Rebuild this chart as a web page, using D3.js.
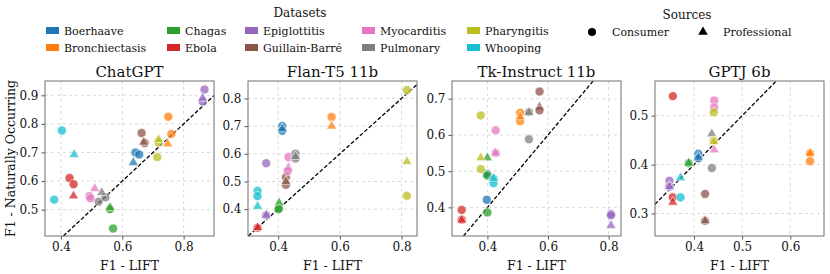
<!DOCTYPE html>
<html lang="en">
<head>
	<meta charset="UTF-8"/>
	<title>F1 LIFT vs Naturally Occurring</title>
	<script src="https://d3js.org/d3.v7.min.js"></script>
	<style>
		body { margin: 0; background: white; }
		svg text { font-family: "DejaVu Serif", serif; fill: #111; }
	</style>
</head>
<body>
<script>
	var w = 830;
	var h = 274;

	var datasets = ["Boerhaave", "Bronchiectasis", "Chagas", "Ebola", "Epiglottitis",
					"Guillain-Barré", "Myocarditis", "Pulmonary", "Pharyngitis", "Whooping"];
	var colors = ["#1f77b4", "#ff7f0e", "#2ca02c", "#d62728", "#9467bd",
				  "#8c564b", "#e377c2", "#7f7f7f", "#bcbd22", "#17becf"];
	var sources = ["Consumer", "Professional"];
	var models = ["ChatGPT", "Flan-T5 11b", "Tk-Instruct 11b", "GPTJ 6b"];

	// [dataset, source (C/P), F1 LIFT, F1 naturally occurring]
	var chatgpt = [
		["Boerhaave","C",0.643,0.700], ["Boerhaave","C",0.655,0.693], ["Boerhaave","P",0.636,0.665],
		["Bronchiectasis","C",0.750,0.825], ["Bronchiectasis","C",0.760,0.765], ["Bronchiectasis","P",0.748,0.730],
		["Chagas","C",0.560,0.502], ["Chagas","P",0.560,0.507], ["Chagas","C",0.570,0.434],
		["Ebola","C",0.428,0.611], ["Ebola","C",0.441,0.589], ["Ebola","P",0.441,0.548],
		["Epiglottitis","C",0.868,0.920], ["Epiglottitis","C",0.862,0.878], ["Epiglottitis","P",0.862,0.890],
		["Guillain-Barré","C",0.663,0.768], ["Guillain-Barré","C",0.673,0.733], ["Guillain-Barré","P",0.670,0.736],
		["Myocarditis","C",0.493,0.548], ["Myocarditis","C",0.496,0.540], ["Myocarditis","P",0.510,0.574],
		["Pulmonary","C",0.523,0.528], ["Pulmonary","C",0.545,0.543], ["Pulmonary","P",0.533,0.560],
		["Pharyngitis","C",0.714,0.684], ["Pharyngitis","C",0.718,0.735], ["Pharyngitis","P",0.718,0.745],
		["Whooping","C",0.403,0.777], ["Whooping","C",0.378,0.535], ["Whooping","P",0.443,0.693]
	];
	var flant5 = [
		["Boerhaave","C",0.413,0.700], ["Boerhaave","C",0.413,0.683], ["Boerhaave","P",0.413,0.690],
		["Bronchiectasis","C",0.573,0.733], ["Bronchiectasis","P",0.573,0.700],
		["Chagas","C",0.403,0.403], ["Chagas","P",0.403,0.423], ["Chagas","C",0.401,0.400],
		["Ebola","C",0.333,0.333], ["Ebola","P",0.333,0.333],
		["Epiglottitis","C",0.361,0.566], ["Epiglottitis","C",0.361,0.378], ["Epiglottitis","P",0.361,0.378],
		["Guillain-Barré","C",0.425,0.515], ["Guillain-Barré","C",0.425,0.488], ["Guillain-Barré","P",0.425,0.500],
		["Myocarditis","C",0.433,0.588], ["Myocarditis","P",0.433,0.550], ["Myocarditis","C",0.431,0.538],
		["Pulmonary","C",0.456,0.600], ["Pulmonary","C",0.456,0.583], ["Pulmonary","P",0.456,0.590],
		["Pharyngitis","C",0.817,0.830], ["Pharyngitis","P",0.817,0.572], ["Pharyngitis","C",0.817,0.448],
		["Whooping","C",0.333,0.466], ["Whooping","C",0.333,0.447], ["Whooping","P",0.333,0.410]
	];
	var tkinstruct = [
		["Boerhaave","C",0.398,0.493], ["Boerhaave","C",0.398,0.421], ["Boerhaave","P",0.398,0.490],
		["Bronchiectasis","C",0.508,0.661], ["Bronchiectasis","C",0.508,0.638], ["Bronchiectasis","P",0.508,0.650],
		["Chagas","P",0.400,0.537], ["Chagas","C",0.400,0.488], ["Chagas","C",0.400,0.386],
		["Ebola","C",0.315,0.393], ["Ebola","C",0.315,0.366], ["Ebola","P",0.315,0.365],
		["Epiglottitis","C",0.808,0.382], ["Epiglottitis","C",0.808,0.378], ["Epiglottitis","P",0.808,0.350],
		["Guillain-Barré","C",0.572,0.720], ["Guillain-Barré","P",0.572,0.677], ["Guillain-Barré","C",0.572,0.668],
		["Myocarditis","C",0.427,0.613], ["Myocarditis","C",0.427,0.550], ["Myocarditis","P",0.427,0.550],
		["Pulmonary","C",0.537,0.663], ["Pulmonary","P",0.537,0.662], ["Pulmonary","C",0.537,0.588],
		["Pharyngitis","C",0.378,0.654], ["Pharyngitis","P",0.378,0.537], ["Pharyngitis","C",0.378,0.506],
		["Whooping","C",0.420,0.479], ["Whooping","C",0.420,0.467], ["Whooping","P",0.420,0.480]
	];
	var gptj = [
		["Boerhaave","C",0.409,0.422], ["Boerhaave","C",0.409,0.413], ["Boerhaave","P",0.409,0.415],
		["Bronchiectasis","C",0.641,0.423], ["Bronchiectasis","P",0.641,0.423], ["Bronchiectasis","C",0.641,0.407],
		["Chagas","C",0.389,0.403], ["Chagas","P",0.389,0.403],
		["Ebola","C",0.356,0.540], ["Ebola","C",0.356,0.333], ["Ebola","P",0.356,0.323],
		["Epiglottitis","C",0.349,0.367], ["Epiglottitis","C",0.349,0.355], ["Epiglottitis","P",0.349,0.355],
		["Guillain-Barré","C",0.423,0.340], ["Guillain-Barré","C",0.423,0.285], ["Guillain-Barré","P",0.423,0.285],
		["Myocarditis","C",0.442,0.531], ["Myocarditis","C",0.442,0.517], ["Myocarditis","P",0.442,0.430],
		["Pulmonary","P",0.437,0.463], ["Pulmonary","C",0.437,0.393],
		["Pharyngitis","C",0.441,0.507], ["Pharyngitis","C",0.441,0.449], ["Pharyngitis","P",0.441,0.447],
		["Whooping","P",0.372,0.373], ["Whooping","C",0.372,0.333]
	];

	var xDomains = [[0.348, 0.899], [0.302, 0.850], [0.283, 0.841], [0.319, 0.670]];
	var yDomains = [[0.408, 0.950], [0.303, 0.863], [0.321, 0.749], [0.254, 0.571]];
	var xTicks = [[0.4, 0.6, 0.8], [0.4, 0.6, 0.8], [0.4, 0.6, 0.8], [0.4, 0.5, 0.6]];
	var yTicks = [[0.5, 0.6, 0.7, 0.8, 0.9], [0.4, 0.5, 0.6, 0.7, 0.8], [0.4, 0.5, 0.6, 0.7], [0.3, 0.4, 0.5]];
	var panelData = [chatgpt, flant5, tkinstruct, gptj];

	// layout of each plot box
	var lefts = [45, 248, 452, 655];
	var pw = 169;
	var plotTop = 81;
	var plotBottom = 236;
	var serif = "'DejaVu Serif', serif";

	var color = d3.scaleOrdinal().domain(datasets).range(colors);

	var svg = d3.select("body")
				.append("svg")
				.attr("width", w)
				.attr("height", h)
				.attr("font-family", serif);

	models.forEach(function(name, i) {
		var x = d3.scaleLinear().domain(xDomains[i]).range([lefts[i], lefts[i] + pw]);
		var y = d3.scaleLinear().domain(yDomains[i]).range([plotBottom, plotTop]);
		var g = svg.append("g");

		// grid
		g.selectAll(".gx")
			.data(xTicks[i])
			.enter()
			.append("line")
			.attr("x1", function(d){ return x(d); })
			.attr("x2", function(d){ return x(d); })
			.attr("y1", plotTop)
			.attr("y2", plotBottom)
			.attr("stroke", "#d0d0d0")
			.attr("stroke-width", 0.8)
			.attr("stroke-dasharray", "3,3");
		g.selectAll(".gy")
			.data(yTicks[i])
			.enter()
			.append("line")
			.attr("x1", lefts[i])
			.attr("x2", lefts[i] + pw)
			.attr("y1", function(d){ return y(d); })
			.attr("y2", function(d){ return y(d); })
			.attr("stroke", "#d0d0d0")
			.attr("stroke-width", 0.8)
			.attr("stroke-dasharray", "3,3");

		// axes
		var xAxis = g.append("g")
			.attr("transform", "translate(0," + plotBottom + ")")
			.call(d3.axisBottom(x).tickValues(xTicks[i]).tickSize(3.5).tickPadding(3).tickFormat(d3.format(".1f")));
		var yAxis = g.append("g")
			.attr("transform", "translate(" + lefts[i] + ",0)")
			.call(d3.axisLeft(y).tickValues(yTicks[i]).tickSize(3.5).tickPadding(3).tickFormat(d3.format(".1f")));
		[xAxis, yAxis].forEach(function(a) {
			a.attr("font-family", serif).attr("font-size", 12);
			a.select(".domain").remove();
			a.selectAll("line").attr("stroke", "#555");
			a.selectAll("text").attr("fill", "#111");
		});

		// y = x reference line, clipped to the box
		var lo = Math.max(xDomains[i][0], yDomains[i][0]);
		var hi = Math.min(xDomains[i][1], yDomains[i][1]);
		g.append("line")
			.attr("x1", x(lo)).attr("y1", y(lo))
			.attr("x2", x(hi)).attr("y2", y(hi))
			.attr("stroke", "black")
			.attr("stroke-width", 1.3)
			.attr("stroke-dasharray", "4,2");

		// markers
		g.selectAll(".pt")
			.data(panelData[i])
			.enter()
			.append("path")
			.attr("d", function(d){
				return d[1] == "C" ? d3.symbol(d3.symbolCircle, 64)() : d3.symbol(d3.symbolTriangle, 44)();
			})
			.attr("transform", function(d){ return "translate(" + x(d[2]) + "," + y(d[3]) + ")"; })
			.attr("fill", function(d){ return color(d[0]); })
			.attr("fill-opacity", 0.75)
			.attr("stroke", "white")
			.attr("stroke-width", 0.6);

		// frame
		g.append("rect")
			.attr("x", lefts[i])
			.attr("y", plotTop)
			.attr("width", pw)
			.attr("height", plotBottom - plotTop)
			.attr("fill", "none")
			.attr("stroke", "#6e6e6e")
			.attr("stroke-width", 1);

		g.append("text")
			.attr("x", lefts[i] + pw / 2)
			.attr("y", 77)
			.attr("text-anchor", "middle")
			.attr("font-size", 15)
			.text(name);

		g.append("text")
			.attr("x", lefts[i] + pw / 2)
			.attr("y", 270)
			.attr("text-anchor", "middle")
			.attr("font-size", 12.5)
			.text("F1 - LIFT");
	});

	svg.append("text")
		.attr("transform", "translate(15," + ((plotTop + plotBottom) / 2) + ") rotate(-90)")
		.attr("text-anchor", "middle")
		.attr("font-size", 12.5)
		.text("F1 - Naturally Occurring");

	// legend: datasets
	var legX = [46, 167, 245, 362, 467];
	svg.append("text")
		.attr("x", 300)
		.attr("y", 17)
		.attr("text-anchor", "middle")
		.attr("font-size", 12)
		.text("Datasets");

	var items = svg.selectAll(".leg")
		.data(datasets)
		.enter()
		.append("g")
		.attr("transform", function(d, i){
			return "translate(" + legX[Math.floor(i / 2)] + "," + (i % 2 == 0 ? 31 : 48) + ")";
		});
	items.append("rect")
		.attr("x", 0)
		.attr("y", -4)
		.attr("width", 13)
		.attr("height", 7)
		.attr("fill", function(d){ return color(d); });
	items.append("text")
		.attr("x", 18)
		.attr("y", 4)
		.attr("font-size", 11)
		.text(function(d){ return d; });

	// legend: sources
	svg.append("text")
		.attr("x", 687)
		.attr("y", 19)
		.attr("text-anchor", "middle")
		.attr("font-size", 12)
		.text("Sources");

	var srcX = [592, 703];
	var src = svg.selectAll(".src")
		.data(sources)
		.enter()
		.append("g")
		.attr("transform", function(d, i){ return "translate(" + srcX[i] + ",32)"; });
	src.append("path")
		.attr("d", function(d, i){
			return i == 0 ? d3.symbol(d3.symbolCircle, 50)() : d3.symbol(d3.symbolTriangle, 40)();
		})
		.attr("fill", "black");
	src.append("text")
		.attr("x", 20)
		.attr("y", 4)
		.attr("font-size", 11)
		.text(function(d){ return d; });
</script>
</body>
</html>
